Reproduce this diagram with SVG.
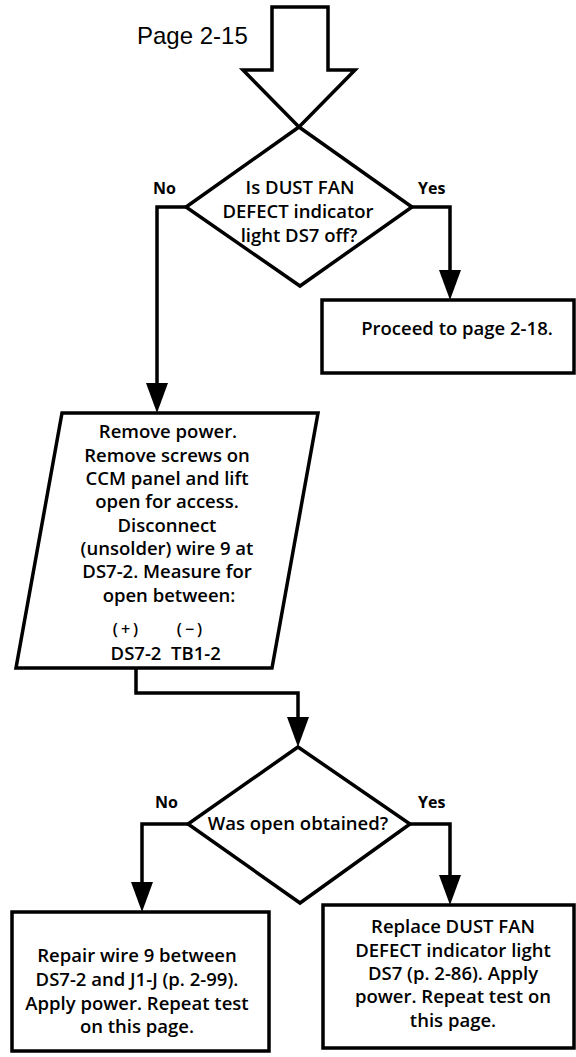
<svg xmlns="http://www.w3.org/2000/svg" width="576" height="1057" viewBox="0 0 576 1057">
<style>
.s{fill:#fff;stroke:#000;stroke-width:3.5;stroke-linejoin:miter}
.c{fill:none;stroke:#000;stroke-width:3.5}
.a{fill:#000}
.t{font-family:"Open Sans","Noto Sans",sans-serif;font-size:18.5px;font-weight:600;fill:#000;text-anchor:middle}
.b{font-family:"Open Sans","Noto Sans",sans-serif;font-size:16px;font-weight:700;fill:#000}
.p{font-family:"Liberation Sans",Arial,sans-serif;font-size:24px;fill:#000}
.w{letter-spacing:3px;font-size:16px}
</style>
<rect width="576" height="1057" fill="#fff"/>
<text class="p" x="137" y="44">Page 2-15</text>
<g id="connectors">
<path d="M186,207 H157 V383" class="c"/>
<path d="M146,383 L168,383 L157,413 Z" class="a"/>
<path d="M412,207 H450 V270" class="c"/>
<path d="M439,270 L461,270 L450,300 Z" class="a"/>
<path d="M136,668 V693 H298 V717" class="c"/>
<path d="M287,717 L309,717 L298,747 Z" class="a"/>
<path d="M188,824 H142 V882" class="c"/>
<path d="M131,882 L153,882 L142,912 Z" class="a"/>
<path d="M410,824 H450 V875" class="c"/>
<path d="M439,875 L461,875 L450,905 Z" class="a"/>
</g>
<g id="start">
<path class="s" d="M272,7 H328 V70 H355 L299,127 L243,70 H272 Z"/>
</g>
<g id="d1">
<path class="s" d="M299,127 L412,207 L300,286 L186,207 Z"/>
<text class="t" x="300" y="194">Is DUST FAN</text>
<text class="t" x="298" y="218">DEFECT indicator</text>
<text class="t" x="299" y="242">light DS7 off?</text>
<text class="b" x="153" y="194">No</text>
<text class="b" x="418" y="194">Yes</text>
</g>
<g id="proceed">
<rect class="s" x="322" y="300" width="252" height="73"/>
<text class="t" x="457" y="335">Proceed to page 2-18.</text>
</g>
<g id="measure">
<path class="s" d="M62,413 H318 L272,668 H16 Z"/>
<text class="t" x="168" y="438">Remove power.</text>
<text class="t" x="167" y="462">Remove screws on</text>
<text class="t" x="167" y="485">CCM panel and lift</text>
<text class="t" x="167" y="508">open for access.</text>
<text class="t" x="167" y="532">Disconnect</text>
<text class="t" x="167" y="555">(unsolder) wire 9 at</text>
<text class="t" x="167" y="578">DS7-2. Measure for</text>
<text class="t" x="169" y="602">open between:</text>
<text class="t w" x="127" y="635">(+)</text>
<text class="t w" x="191" y="635">(−)</text>
<text class="t" x="136" y="660">DS7-2</text>
<text class="t" x="196" y="660">TB1-2</text>
</g>
<g id="d2">
<path class="s" d="M298,747 L410,824 L300,903 L188,824 Z"/>
<text class="t" x="298" y="830">Was open obtained?</text>
<text class="b" x="155" y="808">No</text>
<text class="b" x="418" y="808">Yes</text>
</g>
<g id="repair">
<rect class="s" x="12" y="912" width="257" height="139"/>
<text class="t" x="137" y="962">Repair wire 9 between</text>
<text class="t" x="137" y="986">DS7-2 and J1-J (p. 2-99).</text>
<text class="t" x="137" y="1010">Apply power. Repeat test</text>
<text class="t" x="137" y="1033">on this page.</text>
</g>
<g id="replace">
<rect class="s" x="323" y="905" width="251" height="143"/>
<text class="t" x="453" y="933">Replace DUST FAN</text>
<text class="t" x="453" y="957">DEFECT indicator light</text>
<text class="t" x="453" y="980">DS7 (p. 2-86). Apply</text>
<text class="t" x="453" y="1003">power. Repeat test on</text>
<text class="t" x="453" y="1027">this page.</text>
</g>
</svg>
